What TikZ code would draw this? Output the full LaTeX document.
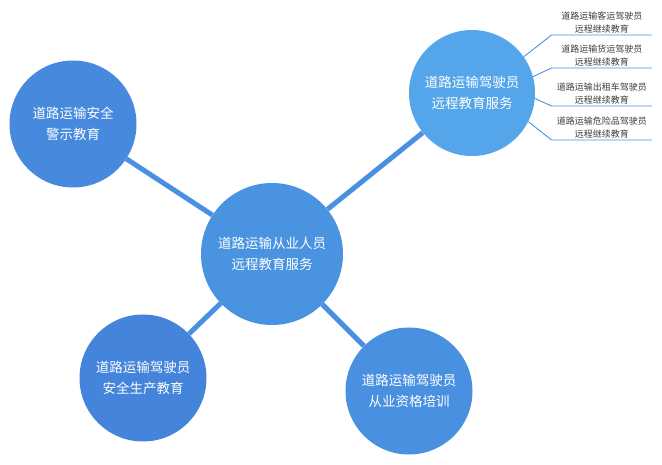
\documentclass[tikz,border=0pt]{standalone}
\usepackage{fontspec}
\usepackage{xcolor}
\usepackage{tikz}
\newfontfamily\cjk{Noto Sans CJK SC}
\definecolor{hubblue}{HTML}{4A93E0}
\definecolor{leftblue}{HTML}{4689DD}
\definecolor{driveblue}{HTML}{54A5E9}
\definecolor{lowblue}{HTML}{4484DB}
\definecolor{certblue}{HTML}{4A90E1}
\definecolor{linkblue}{HTML}{4A90E2}
\definecolor{labelgray}{HTML}{3C3C3C}

\begin{document}
\begin{tikzpicture}[x=1pt,y=-1pt]
    \tikzstyle{topic}=[circle,minimum size=127pt,inner sep=0pt,align=center,
      text=white,font=\cjk\fontsize{13.5}{21}\selectfont]
    \tikzstyle{branch}=[draw=linkblue,line width=5pt]
    \tikzstyle{course}=[minimum width=100pt,inner sep=1.5pt,align=center,
      text=labelgray,font=\cjk\fontsize{9}{13}\selectfont]
    \tikzstyle{twig}=[draw=linkblue,line width=0.9pt]
    \useasboundingbox (0,0) rectangle (662,465);
    % circles
    \node[topic,minimum size=142pt,fill=hubblue] (hub) at (272,254)
      {道路运输从业人员\\远程教育服务};
    \node[topic,fill=leftblue] (warn) at (73,124)
      {道路运输安全\\警示教育};
    \node[topic,minimum size=126pt,fill=driveblue] (drive) at (472,93)
      {道路运输驾驶员\\远程教育服务};
    \node[topic,fill=lowblue] (safe) at (143,378)
      {道路运输驾驶员\\安全生产教育};
    \node[topic,fill=certblue] (cert) at (409,391)
      {道路运输驾驶员\\从业资格培训};
    \draw[branch] (hub) -- (warn);
    \draw[branch] (hub) -- (drive);
    \draw[branch] (hub) -- (safe);
    \draw[branch] (hub) -- (cert);
    % courses
    \node[course,anchor=south east] (bus) at (652,35)
      {道路运输客运驾驶员\\远程继续教育};
    \node[course,anchor=south east] (freight) at (652,68)
      {道路运输货运驾驶员\\远程继续教育};
    \node[course,anchor=south east] (taxi) at (652,106)
      {道路运输出租车驾驶员\\远程继续教育};
    \node[course,anchor=south east] (danger) at (652,140)
      {道路运输危险品驾驶员\\远程继续教育};
    \draw[twig] (drive.35) -- (bus.south west) -- (bus.south east);
    \draw[twig] (drive.15) -- (freight.south west) -- (freight.south east);
    \draw[twig] (drive.-5) -- (taxi.south west) -- (taxi.south east);
    \draw[twig] (drive.-27) -- (danger.south west) -- (danger.south east);
\end{tikzpicture}
\end{document}
